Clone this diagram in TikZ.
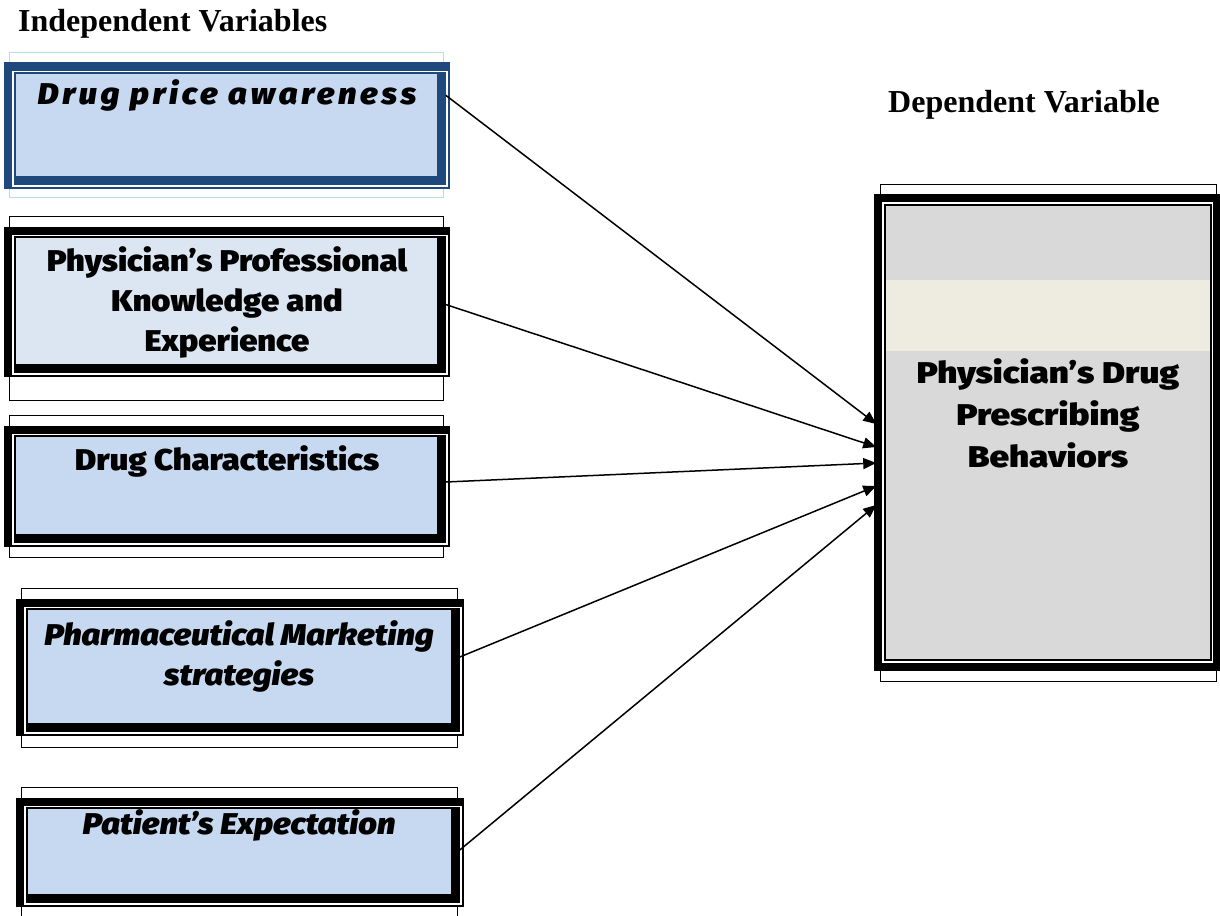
\documentclass[tikz,border=0pt]{standalone}
\usepackage{fontspec}
\setmainfont{Liberation Serif}
\IfFontExistsTF{Fira Sans Black}
  {\newfontfamily\boxfont{Fira Sans Black}}
  {\newfontfamily\boxfont{DejaVu Sans}[UprightFont={* Bold},ItalicFont={* Bold Oblique}]}
\usetikzlibrary{arrows.meta,backgrounds}
\definecolor{ivfill}{HTML}{C6D9F1}
\definecolor{ivpale}{HTML}{DCE6F2}
\definecolor{ivnavy}{HTML}{1F497D}
\definecolor{ivframe}{HTML}{B7DDE8}
\definecolor{dvgray}{HTML}{D9D9D9}
\definecolor{dvband}{HTML}{EEECE1}
\begin{document}
\begin{tikzpicture}[x=1pt,y=-1pt,
    ivbox/.style={draw=#1, fill=ivfill, line width=1.5pt, inner sep=0pt,
      path picture={\draw[#1, line width=16pt]
        (path picture bounding box.north east) --
        (path picture bounding box.south east) --
        (path picture bounding box.south west);}},
    ivbox/.default=black,
    dvbox/.style={draw, fill=dvgray, line width=1.5pt, inner sep=0pt,
      minimum width=326pt, minimum height=455pt,
      path picture={\fill[dvband]
        ([yshift=-75pt]path picture bounding box.north west) rectangle
        ([yshift=-146pt]path picture bounding box.north east);}},
    boxtext/.style={font=\boxfont\addfontfeature{FakeStretch=1.09}\fontsize{30}{40}\selectfont,
      align=center, inner sep=0pt},
    slanttext/.style={boxtext, font=\boxfont\itshape\addfontfeature{FakeStretch=1.09}\fontsize{30}{40}\selectfont},
    heading/.style={font=\bfseries\fontsize{32}{38}\selectfont, inner sep=0pt, anchor=base west},
    link/.style={-{Triangle[length=13pt,width=11pt]}, line width=1.5pt}]

  \useasboundingbox (0,0) rectangle (1220,915);

  \path
    (230,128.5) node[ivbox=ivnavy, minimum width=430pt, minimum height=111pt] (price) {}
    (230,304.5) node[ivbox, fill=ivpale, minimum width=430pt, minimum height=135pt] (know) {}
    (230,489) node[ivbox, minimum width=430pt, minimum height=106pt] (chars) {}
    (243,670) node[ivbox, minimum width=432pt, minimum height=122pt] (mkt) {}
    (243,855) node[ivbox, minimum width=432pt, minimum height=94pt] (patient) {}
    (1048,432.5) node[dvbox] (dep) {};

  % box texts
  \path
    (227,95.5) node[slanttext, font=\boxfont\itshape\addfontfeature{FakeStretch=1.09,LetterSpace=12}\fontsize{30}{40}\selectfont] (price-text) {Drug price awareness}
    (227,302) node[boxtext] (know-text) {Physician’s Professional\\Knowledge and\\Experience}
    (227,461) node[boxtext] (chars-text) {Drug Characteristics}
    (239,656) node[slanttext] (mkt-text) {Pharmaceutical Marketing\\strategies}
    (239,825) node[slanttext] (patient-text) {Patient’s Expectation}
    (1048,413.5) node[boxtext, font=\boxfont\addfontfeature{FakeStretch=1.17}\fontsize{30}{42}\selectfont] (dep-text) {Physician’s Drug\\Prescribing\\Behaviors}
    (18,32) node[heading] (ivhead) {Independent Variables}
    (888,113) node[heading] (dvhead) {Dependent Variable};

  \begin{scope}[on background layer]
    \foreach \b/\c/\f/\d in {price/ivnavy/ivframe/13pt, know/black/black/28pt,
        chars/black/black/15pt, mkt/black/black/16pt, patient/black/black/23pt}{
      \draw[\f, line width=1.2pt] ([shift={(-5pt,20pt)}]\b.north west) rectangle ([shift={(-2pt,-\d)}]\b.south east);
      \draw[\c, line width=1.5pt, fill=white] ([shift={(-10pt,9pt)}]\b.north west) rectangle ([shift={(3pt,-3pt)}]\b.south east);
      \draw[\c, line width=8pt] ([shift={(-6pt,-3pt)}]\b.south west) -- ([shift={(-6pt,5pt)}]\b.north west) -- ([shift={(3pt,5pt)}]\b.north east);
    }
    \draw[line width=1.2pt] ([shift={(-4pt,20pt)}]dep.north west) rectangle ([shift={(5pt,-21pt)}]dep.south east);
    \draw[line width=8pt, fill=white] ([shift={(-6pt,6pt)}]dep.north west) rectangle ([shift={(5.5pt,-6pt)}]dep.south east);
  \end{scope}

  \begin{scope}[link]
    \draw ([yshift=-23pt]price.north east) to ([shift={(-8pt,8.5pt)}]dep.west);
    \draw (know.east) to ([shift={(-8pt,-14.5pt)}]dep.west);
    \draw ([yshift=7pt]chars.east) to ([shift={(-8pt,-30.5pt)}]dep.west);
    \draw ([yshift=13pt]mkt.east) to ([shift={(-8pt,-53.5pt)}]dep.west);
    \draw ([yshift=5pt]patient.east) to ([shift={(-8pt,-72.5pt)}]dep.west);
  \end{scope}
\end{tikzpicture}
\end{document}
